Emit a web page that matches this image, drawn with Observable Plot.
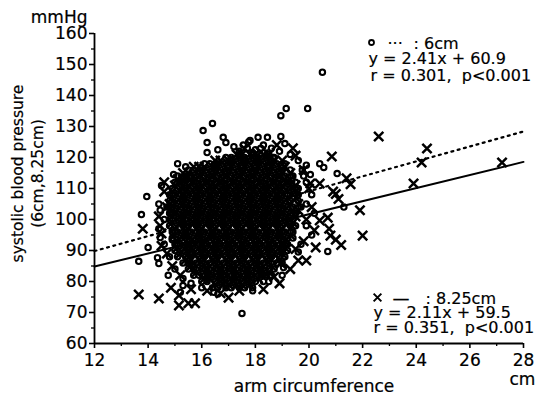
<!DOCTYPE html>
<html><head><meta charset="utf-8">
<script src="https://cdn.jsdelivr.net/npm/d3@7"></script>
<script src="https://cdn.jsdelivr.net/npm/@observablehq/plot@0.6"></script>
<style>
html,body{margin:0;padding:0;background:#fff;}
#chart svg text{stroke:#000;stroke-width:0.2px;}
</style></head><body><div id="chart"></div>
<script>
// axis ticks
const xTicks = [12,14,16,18,20,22,24,26,28];
const xMinor = [13,15,17,19,21,23,25,27];
const yTicks = [60,70,80,90,100,110,120,130,140,150,160];
const yMinor = [65,75,85,95,105,115,125,135,145,155];

// regression lines (slope, intercept) as printed
const fitX = [12, 28];
const sixFit = [2.41, 60.9];
const eightFit = [2.11, 59.5];

// 6cm cuff (circles): isolated / edge points [arm cm, mmHg]
const sixOut = [
 [20.5,147.5],[19.15,135.8],[18.95,133.5],[19.95,135.8],[16.4,131],[16.05,128.7],[16.2,124.8],[16.2,121.6],
 [16.8,126.5],[16.9,124.8],[17.8,125.5],[18.1,126.5],[18.45,126.5],[18.95,126.8],[17.55,124],[17.75,125],
 [17.9,121.6],[18.2,123],[18.5,121],[18.65,120],[15.1,118],[15.4,117],[14.95,114.5],[15.95,116.8],[16.5,118],
 [15.6,113.5],[15.3,113.5],[13.95,107.4],[13.75,101.6],[14.45,103],[14.45,94.2],[14.0,91],[14.9,93.5],
 [13.65,86.5],[14.35,87.7],[14.4,85.8],[14.75,82],[15.2,76.5],[15.3,78.7],[15.6,79.4],[16.45,76.5],[16.6,76],
 [17.5,69.7],[19.05,84.5],[20.7,89.7],[20.4,118],[20.55,116.8],[19.75,116],[19.8,114],[20.05,114.5],
 [21.05,114.8],[21.3,104],
 [17.4,122],[17.7,123],[18.0,122.5],[18.3,124],[18.6,123],[18.9,122],[19.1,124.5],[17.2,123.5],[16.6,122.5],
 [19.3,121],[19.6,119],[19.9,117.5],[19.9,112],[20.1,108],[19.9,105],[20.2,102],[19.9,98],[20.1,95],
 [19.7,92],[19.6,89.5],[14.5,111],[14.4,105],[14.6,100],[14.4,97],[14.6,92],[14.8,88],[15.0,84],[15.3,81],
 [16.0,78],[17.9,77],[18.5,80],[19.0,82]
];
// 6cm cuff: dense core, rows of [mmHg, arm cm values]
const sixCore = [
 [120,[16.9,17.1,17.4,17.6,17.9,18.1,18.4,18.7]],
 [118,[16.1,16.3,16.6,16.8,17.1,17.3,17.6,17.8,18.1,18.3,18.6,18.8,19.1]],
 [116,[15.5,15.7,16.0,16.2,16.5,16.7,17.0,17.2,17.5,17.7,18.0,18.2,18.5,18.7,19.0,19.3]],
 [114,[15.1,15.4,15.6,15.9,16.1,16.4,16.6,16.9,17.1,17.4,17.6,17.9,18.1,18.4,18.6,18.9,19.1,19.4]],
 [112,[15.0,15.2,15.5,15.7,16.0,16.2,16.5,16.7,17.0,17.2,17.5,17.7,18.0,18.2,18.5,18.7,19.0,19.2,19.5]],
 [110,[14.9,15.1,15.4,15.6,15.9,16.1,16.4,16.6,16.9,17.1,17.4,17.6,17.9,18.1,18.4,18.6,18.9,19.1,19.4,19.6]],
 [108,[14.8,15.0,15.3,15.5,15.8,16.0,16.3,16.5,16.8,17.0,17.3,17.5,17.8,18.0,18.3,18.5,18.8,19.0,19.3,19.6]],
 [106,[14.8,15.1,15.3,15.6,15.8,16.1,16.3,16.6,16.8,17.1,17.3,17.6,17.8,18.1,18.3,18.6,18.8,19.1,19.3,19.6]],
 [104,[14.7,14.9,15.2,15.4,15.7,15.9,16.2,16.4,16.7,16.9,17.2,17.4,17.7,17.9,18.2,18.4,18.7,18.9,19.2,19.4,19.7]],
 [102,[14.8,15.0,15.3,15.5,15.8,16.0,16.3,16.5,16.8,17.0,17.3,17.5,17.8,18.0,18.3,18.5,18.8,19.0,19.3,19.5]],
 [100,[14.8,15.1,15.3,15.6,15.8,16.1,16.3,16.6,16.8,17.1,17.3,17.6,17.8,18.1,18.3,18.6,18.8,19.1,19.4]],
 [98,[14.8,15.0,15.3,15.5,15.8,16.0,16.3,16.5,16.8,17.0,17.3,17.5,17.8,18.0,18.3,18.5,18.8,19.0,19.3,19.5]],
 [96,[14.9,15.1,15.4,15.6,15.9,16.1,16.4,16.6,16.9,17.1,17.4,17.6,17.9,18.1,18.4,18.6,18.9,19.1,19.4]],
 [94,[14.9,15.2,15.4,15.7,15.9,16.2,16.4,16.7,16.9,17.2,17.4,17.7,17.9,18.2,18.4,18.7,18.9,19.2,19.4]],
 [92,[15.0,15.2,15.5,15.7,16.0,16.2,16.5,16.7,17.0,17.2,17.5,17.7,18.0,18.2,18.5,18.7,19.0,19.2]],
 [90,[15.0,15.3,15.5,15.8,16.0,16.3,16.5,16.8,17.0,17.3,17.5,17.8,18.0,18.3,18.5,18.8,19.0,19.2]],
 [88,[15.1,15.4,15.6,15.9,16.1,16.4,16.6,16.9,17.1,17.4,17.6,17.9,18.1,18.4,18.6,18.9,19.1]],
 [86,[15.3,15.5,15.8,16.0,16.3,16.5,16.8,17.0,17.3,17.5,17.8,18.0,18.3,18.5,18.8,19.0]],
 [84,[15.5,15.7,16.0,16.2,16.5,16.7,17.0,17.2,17.5,17.7,18.0,18.2,18.5,18.7]],
 [82,[15.7,15.9,16.2,16.4,16.7,16.9,17.2,17.4,17.7,17.9,18.2,18.4,18.6]],
 [80,[16.0,16.2,16.5,16.7,17.0,17.2,17.5,17.7,18.0,18.3]],
 [78,[16.4,16.6,16.9,17.1,17.4,17.6,17.9]]
];

// 8.25cm cuff (crosses): isolated / edge points
const eightOut = [
 [19.4,123],[20.85,120.3],[20.4,111.6],[20.9,109],[20.7,100.6],[20.8,94.8],[22.6,126.8],[24.4,122.9],
 [24.2,118.4],[27.2,118.4],[23.9,111.6],[21.9,103],[22.0,94.8],[21.4,113.3],[21.55,111.4],[21.0,108.2],
 [21.1,106.6],[20.4,99.7],[20.75,97],[21.0,93.5],[21.2,91.8],[20.25,91],[19.9,86.8],[19.6,86.8],[18.95,85.8],
 [18.9,79.4],[17.0,74.8],[16.2,77],[16.7,76.2],[15.5,73],[15.75,73],[15.15,72.3],[15.15,75.5],[14.85,78],
 [14.4,74.5],[13.65,75.8],[13.8,97],[14.45,98],[20.05,111.6],[14.6,109],[14.5,95.5],[14.7,89],
 [17.6,122.8],[18.2,121.7],[18.8,124],[19.5,120.6],[19.8,116],[20.0,110],[20.1,104],[19.9,100],[20.2,96.5],
 [19.8,93],[19.5,90.5],[14.4,101],[14.6,112],[14.7,104],[14.5,91.5],[14.9,85],[15.2,82],[15.6,77.5],
 [17.4,77],[18.3,77.5],[18.7,81.5],[19.3,84]
];
// 8.25cm cuff: dense core rows
const eightCore = [
 [121,[17.3,17.5,17.8,18.0,18.3,18.5]],
 [119,[16.5,16.7,17.0,17.2,17.5,17.7,18.0,18.2,18.5,18.7,19.0]],
 [117,[15.7,15.9,16.1,16.4,16.6,16.9,17.1,17.4,17.6,17.9,18.1,18.4,18.6,18.9,19.1]],
 [115,[15.3,15.5,15.8,16.0,16.3,16.5,16.8,17.0,17.3,17.5,17.8,18.0,18.3,18.5,18.8,19.0,19.3]],
 [113,[15.1,15.3,15.6,15.8,16.1,16.3,16.6,16.8,17.1,17.3,17.6,17.8,18.1,18.3,18.6,18.8,19.1,19.3]],
 [111,[15.0,15.3,15.5,15.8,16.0,16.3,16.5,16.8,17.0,17.3,17.5,17.8,18.0,18.3,18.5,18.8,19.0,19.3,19.5]],
 [109,[14.9,15.2,15.4,15.7,15.9,16.2,16.4,16.7,16.9,17.2,17.4,17.7,17.9,18.2,18.4,18.7,18.9,19.2,19.5]],
 [107,[14.9,15.2,15.4,15.7,15.9,16.2,16.4,16.7,16.9,17.2,17.4,17.7,17.9,18.2,18.4,18.7,18.9,19.2,19.5]],
 [105,[14.8,15.0,15.3,15.5,15.8,16.0,16.3,16.5,16.8,17.0,17.3,17.5,17.8,18.0,18.3,18.5,18.8,19.0,19.3,19.6]],
 [103,[14.9,15.1,15.4,15.6,15.9,16.1,16.4,16.6,16.9,17.1,17.4,17.6,17.9,18.1,18.4,18.6,18.9,19.1,19.4,19.6]],
 [101,[14.9,15.2,15.4,15.7,15.9,16.2,16.4,16.7,16.9,17.2,17.4,17.7,17.9,18.2,18.4,18.7,18.9,19.2,19.5]],
 [99,[14.9,15.2,15.4,15.7,15.9,16.2,16.4,16.7,16.9,17.2,17.4,17.7,17.9,18.2,18.4,18.7,18.9,19.2,19.4]],
 [97,[15.0,15.3,15.5,15.8,16.0,16.3,16.5,16.8,17.0,17.3,17.5,17.8,18.0,18.3,18.5,18.8,19.0,19.3]],
 [95,[15.0,15.3,15.5,15.8,16.0,16.3,16.5,16.8,17.0,17.3,17.5,17.8,18.0,18.3,18.5,18.8,19.0,19.3]],
 [93,[15.1,15.4,15.6,15.9,16.1,16.4,16.6,16.9,17.1,17.4,17.6,17.9,18.1,18.4,18.6,18.9,19.1]],
 [91,[15.1,15.4,15.6,15.9,16.1,16.4,16.6,16.9,17.1,17.4,17.6,17.9,18.1,18.4,18.6,18.9,19.1]],
 [89,[15.2,15.5,15.7,16.0,16.2,16.5,16.7,17.0,17.2,17.5,17.7,18.0,18.2,18.5,18.7,19.0]],
 [87,[15.4,15.6,15.9,16.1,16.4,16.6,16.9,17.1,17.4,17.6,17.9,18.1,18.4,18.6,18.9]],
 [85,[15.6,15.8,16.1,16.3,16.6,16.8,17.1,17.3,17.6,17.8,18.1,18.3,18.6]],
 [83,[15.8,16.1,16.3,16.6,16.8,17.1,17.3,17.6,17.8,18.1,18.3,18.5]],
 [81,[16.1,16.3,16.6,16.8,17.1,17.3,17.6,17.8,18.1]],
 [79,[16.5,16.8,17.0,17.3,17.5,17.8]]
];

const expand = rows => rows.flatMap(([y, xs]) => xs.map(x => [x, y]));
const sixPts = [...expand(sixCore), ...sixOut];
const eightPts = [...expand(eightCore), ...eightOut];
const lineOf = ([m, b]) => fitX.map(x => [x, m * x + b]);

const FONT = "'DejaVu Sans', Verdana, sans-serif";
const TL = {frameAnchor: "top-left", textAnchor: "start", lineAnchor: "bottom"};

const chart = Plot.plot({
  width: 536, height: 398,
  marginLeft: 94, marginRight: 13, marginTop: 33, marginBottom: 55,
  x: {domain: [12, 28]},
  y: {domain: [60, 160]},
  style: {fontFamily: FONT, fontSize: "17px", color: "black", background: "white", overflow: "visible"},
  marks: [
    Plot.dot(eightPts, {x: d => d[0], y: d => d[1], symbol: "times", r: 4.3, stroke: "black", strokeWidth: 2.5}),
    Plot.dot(sixPts, {x: d => d[0], y: d => d[1], symbol: "circle", r: 2.7, fill: "none", stroke: "black", strokeWidth: 2.1}),
    Plot.line(lineOf(sixFit), {x: d => d[0], y: d => d[1], stroke: "black", strokeWidth: 2.2, strokeDasharray: "2,4.5"}),
    Plot.line(lineOf(eightFit), {x: d => d[0], y: d => d[1], stroke: "black", strokeWidth: 2}),
    Plot.ruleX([12], {strokeWidth: 1.8}),
    Plot.ruleY([60], {strokeWidth: 1.8}),
    Plot.axisX({ticks: xTicks, tickSize: 5, tickPadding: 5, strokeWidth: 1.6, label: null}),
    Plot.axisX({ticks: xMinor, tickSize: 3, tickFormat: () => "", strokeWidth: 1.3, label: null}),
    Plot.axisY({ticks: yTicks, tickSize: 5, tickPadding: 2, strokeWidth: 1.6, label: null}),
    Plot.axisY({ticks: yMinor, tickSize: 3, tickFormat: () => "", strokeWidth: 1.3, label: null}),
    // axis titles
    Plot.text(["mmHg"], {frameAnchor: "top-left", textAnchor: "end", lineAnchor: "bottom", dx: -7, dy: -11}),
    Plot.text(["systolic blood pressure\n(6cm,8.25cm)"], {frameAnchor: "left", rotate: -90, textAnchor: "middle", lineAnchor: "middle", lineHeight: 1.28, dx: -68, dy: -15, fontSize: 15.5}),
    Plot.text(["arm circumference"], {frameAnchor: "bottom", textAnchor: "middle", lineAnchor: "bottom", dx: 5, dy: 48}),
    Plot.text(["cm"], {frameAnchor: "bottom-right", textAnchor: "start", lineAnchor: "bottom", dx: -14, dy: 41}),
    // legend, 6cm
    Plot.dot([0], {frameAnchor: "top-left", dx: 277, dy: 9, symbol: "circle", r: 2.5, fill: "none", stroke: "black", strokeWidth: 1.8}),
    Plot.text(["···"], {...TL, dx: 293, dy: 15, fontSize: 16}),
    Plot.text([": 6cm"], {...TL, dx: 319, dy: 15, fontSize: 16}),
    Plot.text(["y = 2.41x + 60.9"], {...TL, dx: 274, dy: 30, fontSize: 16}),
    Plot.text(["r = 0.301,  p<0.001"], {...TL, dx: 276, dy: 47, fontSize: 16}),
    // legend, 8.25cm
    Plot.dot([0], {frameAnchor: "top-left", dx: 283, dy: 264, symbol: "times", r: 3.6, stroke: "black", strokeWidth: 2}),
    Plot.text(["—"], {...TL, dx: 298, dy: 270, fontSize: 17}),
    Plot.text([": 8.25cm"], {...TL, dx: 331, dy: 270, fontSize: 16}),
    Plot.text(["y = 2.11x + 59.5"], {...TL, dx: 279, dy: 284, fontSize: 16}),
    Plot.text(["r = 0.351,  p<0.001"], {...TL, dx: 279, dy: 299, fontSize: 16})
  ]
});
document.getElementById("chart").append(chart);
</script>
</body></html>
